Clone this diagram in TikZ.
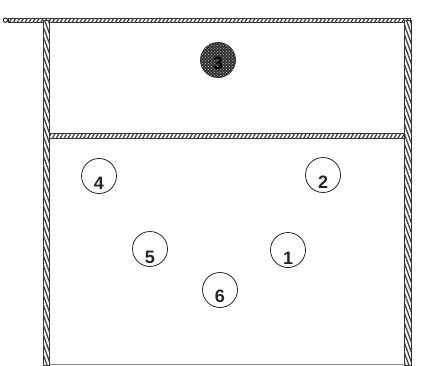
\documentclass[tikz,border=0pt]{standalone}
\usepackage{fontspec}
\setmainfont{Liberation Sans}
\usetikzlibrary{patterns,patterns.meta}
\begin{document}
\begin{tikzpicture}[x=1pt,y=-1pt,
  rope/.style={draw=black!80,line width=0.7pt,fill=white,
    postaction={pattern={Lines[angle=#1,distance=3.4pt,line width=1.3pt]},pattern color=black!75}},
  player/.style={circle,draw=black!85,line width=0.8pt,minimum size=35pt,inner sep=0pt},
  num/.style={font=\fontsize{18}{18}\selectfont\bfseries,text=black!85}]
\useasboundingbox (0,0) rectangle (422,365);
% net top rope
\draw[rope=60] (8,18) rectangle (410,22.5);
\draw[black!85,line width=1pt,fill=white] (5.5,20.2) circle (2.2pt);
% posts
\draw[rope=-70] (43,20) rectangle (49.5,365);
\draw[rope=-70] (404.5,20) rectangle (411,365);
% attack line
\draw[rope=60] (49.5,133.5) rectangle (404.5,138);
% bottom line
\draw[black!45,line width=0.8pt] (49.5,364) -- (404.5,364);
% players
\node[player,fill=black!80,
  postaction={pattern=crosshatch dots,pattern color=white!70!black}] (p3) at (218,60) {};
\node[num,text=black] at ([yshift=-3pt]p3.center) {3};
\node[player] (p4) at (99,176) {};
\node[num] at ([yshift=-7pt]p4.center) {4};
\node[player] (p2) at (323,175) {};
\node[num] at ([yshift=-7pt]p2.center) {2};
\node[player] (p5) at (150,249) {};
\node[num] at ([yshift=-8pt]p5.center) {5};
\node[player] (p1) at (288,250) {};
\node[num] at ([yshift=-8pt]p1.center) {1};
\node[player] (p6) at (220,290) {};
\node[num] at ([yshift=-6pt]p6.center) {6};
\end{tikzpicture}
\end{document}
